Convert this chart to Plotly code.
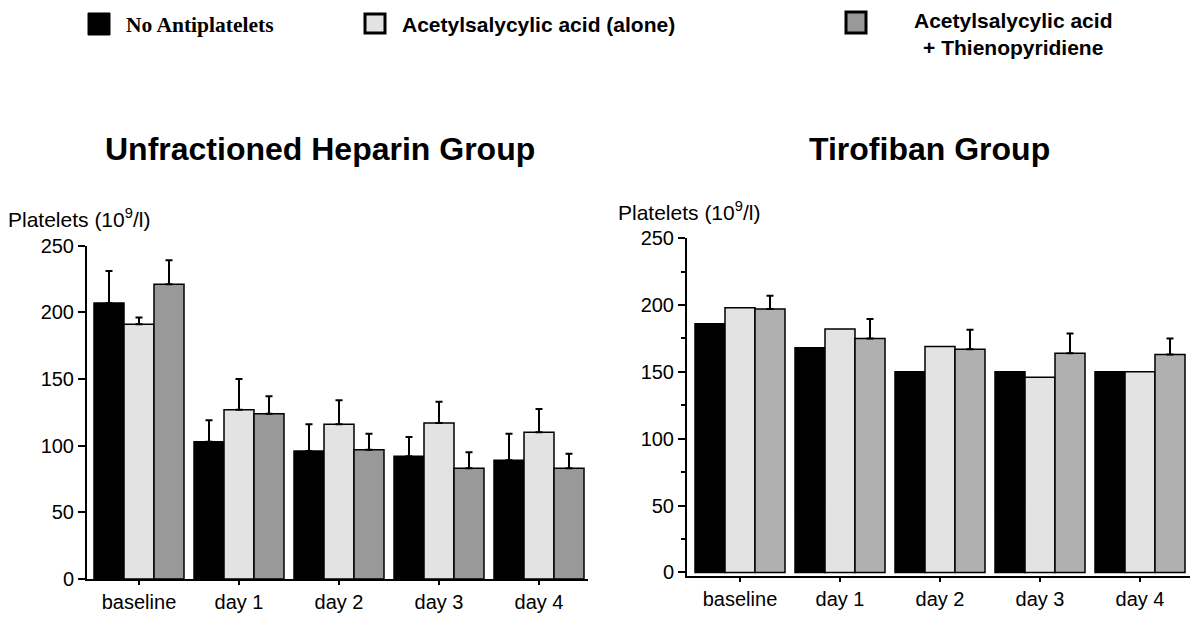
import plotly.graph_objects as go

categories = ["baseline", "day 1", "day 2", "day 3", "day 4"]
series_names = ["No Antiplatelets", "Acetylsalycylic acid (alone)", "Acetylsalycylic acid + Thienopyridiene"]

# Unfractioned Heparin Group
ufh_none = [207, 103, 96, 92, 89]
ufh_none_err = [24, 16, 20, 14.5, 20]
ufh_asa = [191, 127, 116, 117, 110]
ufh_asa_err = [5, 23, 18, 16, 17.5]
ufh_dual = [221, 124, 97, 83, 83]
ufh_dual_err = [18, 13, 12, 12, 11]

# Tirofiban Group
tiro_none = [186, 168, 150, 150, 150]
tiro_asa = [198, 182, 169, 146, 150]
tiro_dual = [197, 175, 167, 164, 163]
tiro_dual_err = [10, 14.5, 14.5, 14.7, 12]

y_ticks = [0, 50, 100, 150, 200, 250]

BLACK = "#000000"
LIGHT = "#e3e3e3"
GRAY_L = "#999999"
GRAY_R = "#b0b0b0"
W, H = 1200, 620

def px(x):
    return x / W

def py(y):
    # map a target pixel row to paper coords (compensating the observed vertical scaling of the capture)
    ys = (y - 11) / 0.965
    ys = min(max(ys, 0), H)
    return 1 - ys / H

fig = go.Figure()

def add_bar(x, y, color, xa, ya, err=None, name=""):
    kw = {}
    if err is not None:
        kw["error_y"] = dict(type="data", array=err, arrayminus=[0] * len(err),
                             symmetric=False, color="black", thickness=2, width=3.5)
    fig.add_trace(go.Bar(x=x, y=y, name=name, marker=dict(color=color, line=dict(color="black", width=1.5)),
                         xaxis=xa, yaxis=ya, showlegend=False, **kw))

add_bar(categories, ufh_none, BLACK, "x", "y", ufh_none_err, series_names[0])
add_bar(categories, ufh_asa, LIGHT, "x", "y", ufh_asa_err, series_names[1])
add_bar(categories, ufh_dual, GRAY_L, "x", "y", ufh_dual_err, series_names[2])
add_bar(categories, tiro_none, BLACK, "x2", "y2", None, series_names[0])
add_bar(categories, tiro_asa, LIGHT, "x2", "y2", None, series_names[1])
add_bar(categories, tiro_dual, GRAY_R, "x2", "y2", tiro_dual_err, series_names[2])

axis_font = dict(family="Liberation Sans, Arial, sans-serif", size=20, color="black")

xcommon = dict(type="category", showgrid=False, zeroline=False, showline=True, linecolor="black",
               linewidth=2, ticks="outside", ticklen=4, tickwidth=1.5, tickcolor="black",
               tickfont=axis_font, fixedrange=True)
ycommon = dict(showgrid=False, zeroline=False, showline=True, linecolor="black", linewidth=2,
               ticks="outside", ticklen=7, tickwidth=1.5, tickcolor="black", tickvals=y_ticks,
               tickfont=axis_font, fixedrange=True)

fig.update_layout(
    width=W, height=H,
    margin=dict(l=0, r=0, t=0, b=0),
    paper_bgcolor="white", plot_bgcolor="white",
    barmode="group", bargap=0.1, bargroupgap=0,
    xaxis=dict(domain=[px(87), px(588)], range=[-0.52, 4.49], anchor="y", **xcommon),
    yaxis=dict(domain=[py(579.3), py(245.7)], range=[0, 250], anchor="x", **ycommon),
    xaxis2=dict(domain=[px(687), px(1190)], range=[-0.53, 4.5], anchor="y2", **xcommon),
    yaxis2=dict(domain=[py(576), py(238.3)], range=[-2.5, 250], anchor="x2",
                minor=dict(tickvals=[25, 75, 125, 175, 225], ticks="outside", ticklen=4,
                           tickwidth=1.5, tickcolor="black"),
                **ycommon),
)

annots = []
# titles
title_font = dict(family="Liberation Sans, Arial, sans-serif", size=32, color="black")
annots.append(dict(text="<b>Unfractioned Heparin Group</b>", x=px(320), y=py(149), xref="paper", yref="paper",
                   xanchor="center", yanchor="middle", showarrow=False, font=title_font))
annots.append(dict(text="<b>Tirofiban Group</b>", x=px(929), y=py(149), xref="paper", yref="paper",
                   xanchor="center", yanchor="middle", showarrow=False, font=title_font))
# y labels
ylab_font = dict(family="Liberation Sans, Arial, sans-serif", size=21, color="black")
annots.append(dict(text="Platelets (10<sup>9</sup>/l)", x=px(6), y=py(218), xref="paper", yref="paper",
                   xanchor="left", yanchor="middle", showarrow=False, font=ylab_font))
annots.append(dict(text="Platelets (10<sup>9</sup>/l)", x=px(616), y=py(211), xref="paper", yref="paper",
                   xanchor="left", yanchor="middle", showarrow=False, font=ylab_font))
# legend texts
annots.append(dict(text="<b>No Antiplatelets</b>", x=px(124), y=py(25), xref="paper", yref="paper",
                   xanchor="left", yanchor="middle", showarrow=False,
                   font=dict(family="Liberation Serif, Times New Roman, serif", size=21.5, color="black")))
annots.append(dict(text="<b>Acetylsalycylic acid (alone)</b>", x=px(400), y=py(25), xref="paper", yref="paper",
                   xanchor="left", yanchor="middle", showarrow=False,
                   font=dict(family="Liberation Sans, Arial, sans-serif", size=21, color="black")))
annots.append(dict(text="<b>Acetylsalycylic acid</b><br><b>+ Thienopyridiene</b>", x=px(1013), y=py(34),
                   xref="paper", yref="paper", xanchor="center", yanchor="middle", align="center",
                   showarrow=False,
                   font=dict(family="Liberation Sans, Arial, sans-serif", size=21, color="black")))
fig.update_layout(annotations=annots)

shapes = [
    dict(type="rect", xref="paper", yref="paper", x0=px(88), x1=px(110), y0=py(35), y1=py(13),
         fillcolor=BLACK, line=dict(color="black", width=1)),
    dict(type="rect", xref="paper", yref="paper", x0=px(365), x1=px(385), y0=py(33), y1=py(14),
         fillcolor=LIGHT, line=dict(color="black", width=3)),
    dict(type="rect", xref="paper", yref="paper", x0=px(846), x1=px(866), y0=py(33), y1=py(12),
         fillcolor=GRAY_L, line=dict(color="black", width=3)),
]
fig.update_layout(shapes=shapes)

post = (
    "document.documentElement.style.margin='0';"
    "document.documentElement.style.overflow='hidden';"
    "document.body.style.margin='0';"
    "document.body.style.overflow='hidden';"
    "var gd=document.getElementById('{plot_id}');"
    "gd.style.position='fixed';gd.style.top='0px';gd.style.left='0px';"
)
fig.write_html("out.html", config={"displayModeBar": False}, post_script=post)
